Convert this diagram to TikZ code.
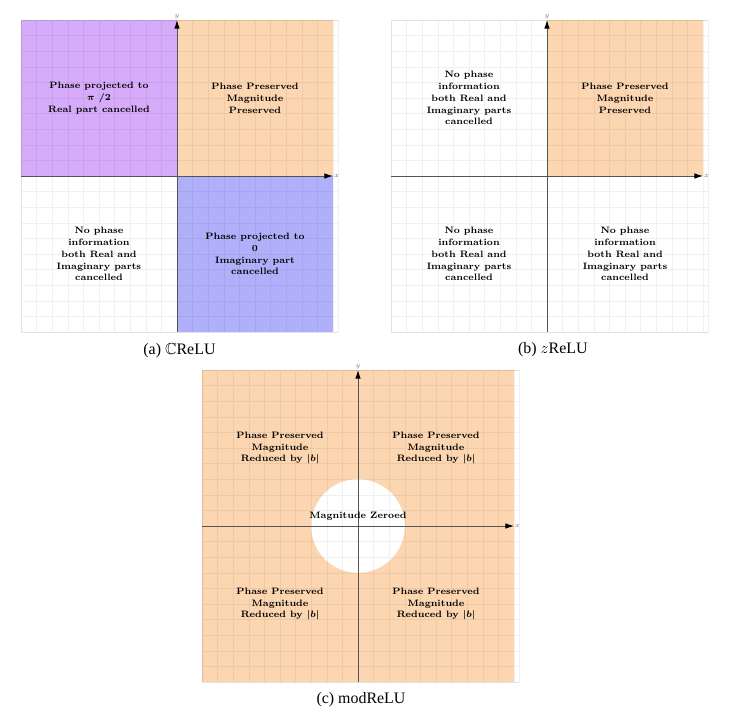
\documentclass[tikz,border=0pt]{standalone}
\usepackage{amsmath}
\usepackage{amssymb}
\usepackage{fontspec}
\newfontfamily\capfont{Liberation Serif}
\usetikzlibrary{arrows.meta}

\definecolor{phasepurple}{RGB}{214,171,250}
\definecolor{phaseorange}{RGB}{252,214,176}
\definecolor{phaseblue}{RGB}{176,176,250}

\begin{document}
\begin{tikzpicture}[x=0.8255cm,y=0.8255cm]
    \tikzset{helpgrid/.style={black, opacity=0.06, line width=0.4pt}}
    \tikzset{axisline/.style={black!67, line width=0.7pt, -{Latex[length=6.5pt,width=4.2pt,black]}}}
    \tikzset{qtext/.style={align=center, font=\fontsize{7}{8.9}\selectfont\bfseries\boldmath}}
    \tikzset{axlabel/.style={font=\fontsize{4}{5}\selectfont, text=black!55, inner sep=0.5pt}}
    \tikzset{captext/.style={font=\capfont\fontsize{12}{14}\selectfont}}

    \useasboundingbox (0,0) rectangle (23.397,23.109);

    % (a) CReLU
    \begin{scope}[shift={(5.673,17.468)}]
        \fill[phasepurple] (-5,0) rectangle (0,5);
        \fill[phaseorange] (0,0) rectangle (5,5);
        \fill[phaseblue] (0,-5) rectangle (5,0);
        \draw[helpgrid] (-5,-5) grid[step=0.5] (5.16,5);
        \draw[helpgrid] (-5,-5) rectangle (5.16,5);

        \coordinate (a-xs) at (-5,0);
        \coordinate (a-xe) at (5,0);
        \coordinate (a-ys) at (0,-5);
        \coordinate (a-ye) at (0,5);
        \draw[axisline] (a-xs) -- (a-xe);
        \draw[axisline] (a-ys) -- (a-ye);
        \node[axlabel, right] (a-x) at (a-xe) {$x$};
        \node[axlabel, above] (a-y) at (a-ye) {$y$};

        \node[qtext] (a-q2) at (-2.5,2.5) {Phase projected to\\$\pi$ /2\\Real part cancelled};
        \node[qtext] (a-q1) at (2.5,2.5) {Phase Preserved\\Magnitude\\Preserved};
        \node[qtext] (a-q3) at (-2.5,-2.5) {No phase\\information\\both Real and\\Imaginary parts\\cancelled};
        \node[qtext] (a-q4) at (2.5,-2.5) {Phase projected to\\0\\Imaginary part\\cancelled};
    \end{scope}

    % (b) zReLU
    \begin{scope}[shift={(17.532,17.468)}]
        \fill[phaseorange] (0,0) rectangle (5,5);
        \draw[helpgrid] (-5,-5) grid[step=0.5] (5.16,5);
        \draw[helpgrid] (-5,-5) rectangle (5.16,5);

        \coordinate (b-xs) at (-5,0);
        \coordinate (b-xe) at (5,0);
        \coordinate (b-ys) at (0,-5);
        \coordinate (b-ye) at (0,5);
        \draw[axisline] (b-xs) -- (b-xe);
        \draw[axisline] (b-ys) -- (b-ye);
        \node[axlabel, right] (b-x) at (b-xe) {$x$};
        \node[axlabel, above] (b-y) at (b-ye) {$y$};

        \node[qtext] (b-q2) at (-2.5,2.5) {No phase\\information\\both Real and\\Imaginary parts\\cancelled};
        \node[qtext] (b-q1) at (2.5,2.5) {Phase Preserved\\Magnitude\\Preserved};
        \node[qtext] (b-q3) at (-2.5,-2.5) {No phase\\information\\both Real and\\Imaginary parts\\cancelled};
        \node[qtext] (b-q4) at (2.5,-2.5) {No phase\\information\\both Real and\\Imaginary parts\\cancelled};
    \end{scope}

    % (c) modReLU
    \begin{scope}[shift={(11.474,6.25)}]
        \fill[phaseorange] (-5,-5) rectangle (5,5);
        \fill[white] (0,0) circle (1.5);
        \draw[helpgrid] (-5,-5) grid[step=0.5] (5.16,5);
        \draw[helpgrid] (-5,-5) rectangle (5.16,5);

        \coordinate (c-xs) at (-5,0);
        \coordinate (c-xe) at (5,0);
        \coordinate (c-ys) at (0,-5);
        \coordinate (c-ye) at (0,5);
        \draw[axisline] (c-xs) -- (c-xe);
        \draw[axisline] (c-ys) -- (c-ye);
        \node[axlabel, right] (c-x) at (c-xe) {$x$};
        \node[axlabel, above] (c-y) at (c-ye) {$y$};

        \node[qtext] (c-q2) at (-2.5,2.5) {Phase Preserved\\Magnitude\\Reduced by $|b|$};
        \node[qtext] (c-q1) at (2.5,2.5) {Phase Preserved\\Magnitude\\Reduced by $|b|$};
        \node[qtext] (c-q3) at (-2.5,-2.5) {Phase Preserved\\Magnitude\\Reduced by $|b|$};
        \node[qtext] (c-q4) at (2.5,-2.5) {Phase Preserved\\Magnitude\\Reduced by $|b|$};
        \node[qtext] (c-zero) at (0,0.33) {Magnitude Zeroed};
    \end{scope}

    % captions
    \node[captext] (cap-a) at (5.753,11.86) {(a) $\mathbb{C}$ReLU};
    \node[captext] (cap-b) at (17.72,11.89) {(b) $z$ReLU};
    \node[captext] (cap-c) at (11.57,0.67) {(c) modReLU};
\end{tikzpicture}
\end{document}
